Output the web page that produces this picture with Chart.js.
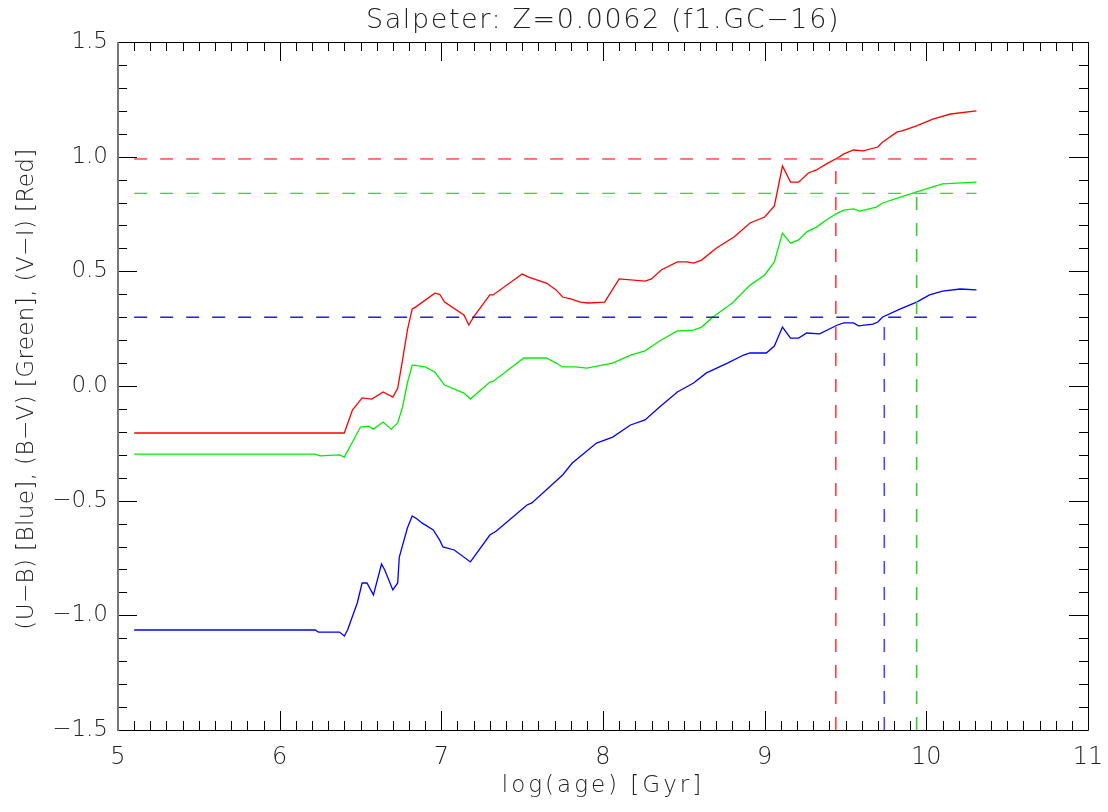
<!DOCTYPE html>
<html>
<head>
<meta charset="utf-8">
<title>Salpeter: Z=0.0062 (f1.GC-16)</title>
<script src="https://cdn.jsdelivr.net/npm/chart.js@4/dist/chart.umd.min.js"></script>
<style>
  html, body { margin: 0; padding: 0; background: #fff; }
  #wrap { width: 1108px; height: 812px; }
</style>
</head>
<body>
<div id="wrap"><canvas id="grafica" width="1108" height="812"></canvas></div>
<script>
// colour evolution tracks, log(age) on x

// (V-I)
const ageVI = [5.10, 6.40, 6.45, 6.51, 6.57, 6.64, 6.70, 6.73, 6.76, 6.79,
  6.82, 6.84, 6.96, 6.99, 7.02, 7.14, 7.17, 7.20, 7.30, 7.32,
  7.50, 7.54, 7.65, 7.71, 7.75, 7.80, 7.86, 7.91, 8.01, 8.10,
  8.26, 8.30, 8.36, 8.46, 8.52, 8.56, 8.61, 8.70, 8.81, 8.91,
  9.00, 9.06, 9.11, 9.16, 9.21, 9.27, 9.32, 9.39, 9.45, 9.49,
  9.55, 9.61, 9.70, 9.73, 9.82, 9.85, 9.94, 10.04, 10.15, 10.31];
const colVI = [-0.205, -0.205, -0.105, -0.052, -0.057, -0.026, -0.048, -0.010, 0.113, 0.244,
  0.336, 0.344, 0.405, 0.400, 0.366, 0.310, 0.266, 0.301, 0.397, 0.397,
  0.488, 0.475, 0.449, 0.419, 0.388, 0.380, 0.366, 0.362, 0.366, 0.467,
  0.457, 0.467, 0.506, 0.541, 0.541, 0.536, 0.549, 0.601, 0.650, 0.711,
  0.737, 0.785, 0.959, 0.889, 0.889, 0.929, 0.942, 0.972, 0.994, 1.012,
  1.029, 1.025, 1.042, 1.064, 1.108, 1.112, 1.134, 1.164, 1.186, 1.200];

// (B-V)
const ageBV = [5.10, 6.22, 6.25, 6.37, 6.40, 6.45, 6.50, 6.55, 6.58, 6.64,
  6.69, 6.73, 6.76, 6.79, 6.82, 6.90, 6.96, 7.02, 7.14, 7.18,
  7.30, 7.32, 7.51, 7.65, 7.71, 7.75, 7.83, 7.90, 8.06, 8.17,
  8.26, 8.35, 8.46, 8.56, 8.61, 8.68, 8.80, 8.91, 9.00, 9.06,
  9.11, 9.16, 9.21, 9.26, 9.32, 9.39, 9.45, 9.49, 9.55, 9.59,
  9.69, 9.73, 9.84, 9.94, 10.10, 10.31];
const colBV = [-0.297, -0.297, -0.305, -0.300, -0.310, -0.244, -0.179, -0.175, -0.188, -0.157,
  -0.188, -0.161, -0.092, 0.013, 0.092, 0.083, 0.061, 0.004, -0.031, -0.057,
  0.017, 0.020, 0.122, 0.122, 0.100, 0.083, 0.083, 0.078, 0.100, 0.135,
  0.153, 0.196, 0.240, 0.244, 0.257, 0.301, 0.362, 0.440, 0.484, 0.541,
  0.667, 0.623, 0.637, 0.672, 0.693, 0.728, 0.754, 0.767, 0.772, 0.763,
  0.780, 0.798, 0.824, 0.846, 0.881, 0.889];

// (U-B)
const ageUB = [5.10, 6.22, 6.24, 6.37, 6.40, 6.42, 6.48, 6.51, 6.54, 6.58,
  6.63, 6.65, 6.70, 6.73, 6.74, 6.79, 6.82, 6.85, 6.88, 6.95,
  6.99, 7.01, 7.08, 7.18, 7.30, 7.34, 7.53, 7.56, 7.73, 7.75,
  7.81, 7.96, 8.06, 8.17, 8.26, 8.35, 8.46, 8.56, 8.64, 8.77,
  8.87, 8.91, 9.01, 9.06, 9.11, 9.16, 9.21, 9.26, 9.34, 9.45,
  9.49, 9.55, 9.58, 9.67, 9.70, 9.73, 9.84, 9.94, 10.02, 10.10,
  10.21, 10.31];
const colUB = [-1.064, -1.064, -1.073, -1.073, -1.090, -1.064, -0.946, -0.859, -0.859, -0.911,
  -0.776, -0.802, -0.889, -0.859, -0.746, -0.619, -0.567, -0.580, -0.597, -0.628,
  -0.672, -0.702, -0.715, -0.767, -0.650, -0.632, -0.519, -0.510, -0.401, -0.388,
  -0.336, -0.249, -0.223, -0.170, -0.148, -0.092, -0.026, 0.013, 0.057, 0.100,
  0.135, 0.144, 0.144, 0.174, 0.257, 0.209, 0.209, 0.231, 0.227, 0.266,
  0.275, 0.275, 0.262, 0.270, 0.279, 0.301, 0.336, 0.366, 0.397, 0.414,
  0.423, 0.419];

// observed colours and the ages where the tracks reach them
const obsVI = 0.99, obsBV = 0.84, obsUB = 0.30;
const ageHitVI = 9.44, ageHitBV = 9.94, ageHitUB = 9.74;
const ageFirst = 5.10, ageLast = 10.31;

const xTicks = [5, 6, 7, 8, 9, 10, 11];
const yTicks = [-1.5, -1.0, -0.5, 0.0, 0.5, 1.0, 1.5];

const titleText = 'Salpeter: Z=0.0062 (f1.GC\u221216)';
const xTitle = 'log(age) [Gyr]';
const yTitle = '(U\u2212B) [Blue], (B\u2212V) [Green], (V\u2212I) [Red]';

const FONT = 'DejaVu Sans';
const TXT = '#222';

function pts(xs, ys) {
  return xs.map((x, i) => ({ x: x, y: ys[i] }));
}

function track(xs, ys, color) {
  return { data: pts(xs, ys), borderColor: color, borderWidth: 1.3, pointRadius: 0, tension: 0, fill: false };
}

function dashed(a, b, color, w) {
  return { data: [a, b], borderColor: color, borderWidth: w || 1.3, borderDash: [13, 13], pointRadius: 0, fill: false };
}

// inward ticks on all four sides plus the box
const frameTicks = {
  id: 'frameTicks',
  afterDatasetsDraw(chart) {
    const c = chart.ctx, a = chart.chartArea;
    const sx = chart.scales.x, sy = chart.scales.y;
    c.save();
    c.strokeStyle = '#000';
    c.lineWidth = 1;
    c.beginPath();
    for (let i = 0; i <= 60; i++) {
      const v = xTicks[0] + i * 0.1;
      const px = Math.round(sx.getPixelForValue(v)) + 0.5;
      const len = i % 10 === 0 ? 19 : 9;
      c.moveTo(px, a.bottom); c.lineTo(px, a.bottom - len);
      c.moveTo(px, a.top); c.lineTo(px, a.top + len);
    }
    for (let i = 0; i <= 30; i++) {
      const v = yTicks[0] + i * 0.1;
      const py = Math.round(sy.getPixelForValue(v)) + 0.5;
      const len = i % 5 === 0 ? 19 : 9;
      c.moveTo(a.left, py); c.lineTo(a.left + len, py);
      c.moveTo(a.right, py); c.lineTo(a.right - len, py);
    }
    c.stroke();
    c.beginPath();
    c.moveTo(a.left, a.top + 0.5); c.lineTo(a.right + 0.5, a.top + 0.5);
    c.lineTo(a.right + 0.5, a.bottom + 0.5); c.lineTo(a.left, a.bottom + 0.5);
    c.stroke();
    c.strokeStyle = '#777';
    c.lineWidth = 2;
    c.beginPath();
    c.moveTo(a.left, a.top); c.lineTo(a.left, a.bottom + 1);
    c.stroke();
    c.restore();
  }
};

// title and axis titles, spaced out like the plotting-package font
const titles = {
  id: 'titles',
  afterDraw(chart) {
    const c = chart.ctx, a = chart.chartArea;
    const mid = (a.left + a.right) / 2;
    c.save();
    c.fillStyle = TXT;
    c.textAlign = 'center';
    c.textBaseline = 'alphabetic';

    c.font = '200 27px "' + FONT + '"';
    c.letterSpacing = '1.6px';
    c.fillText(titleText, mid, 28);

    c.font = '200 23px "' + FONT + '"';
    c.letterSpacing = '3px';
    c.fillText(xTitle, mid, 792);

    c.letterSpacing = '0.4px';
    c.translate(33, (a.top + a.bottom) / 2 + 3);
    c.rotate(-Math.PI / 2);
    c.fillText(yTitle, 0, 0);
    c.restore();
  }
};

const ctx = document.getElementById('grafica').getContext('2d');
new Chart(ctx, {
  type: 'line',
  data: {
    datasets: [
      dashed({ x: ageFirst, y: obsVI }, { x: ageLast, y: obsVI }, '#ff3030'),
      dashed({ x: ageFirst, y: obsBV }, { x: ageLast, y: obsBV }, '#30e030'),
      dashed({ x: ageFirst, y: obsUB }, { x: ageLast, y: obsUB }, '#0000c8'),
      dashed({ x: ageHitVI, y: yTicks[0] }, { x: ageHitVI, y: obsVI }, '#ff4040', 1.6),
      dashed({ x: ageHitUB, y: yTicks[0] }, { x: ageHitUB, y: obsUB }, '#4848ff', 1.6),
      dashed({ x: ageHitBV, y: yTicks[0] }, { x: ageHitBV, y: obsBV }, '#30d030', 1.6),
      track(ageVI, colVI, '#ff0000'),
      track(ageBV, colBV, '#00ee00'),
      track(ageUB, colUB, '#0000ff')
    ]
  },
  options: {
    responsive: false,
    animation: false,
    layout: { padding: { left: 0, right: 20, top: 42, bottom: 0 } },
    plugins: {
      legend: { display: false },
      tooltip: { enabled: false },
      title: { display: false }
    },
    scales: {
      x: {
        type: 'linear',
        min: 5, max: 11,
        afterFit(s) { s.height = 82; s.paddingLeft = 0; s.paddingRight = 0; },
        grid: { display: false, drawTicks: false },
        border: { display: false },
        ticks: {
          stepSize: 1,
          padding: 13,
          color: TXT,
          font: { family: FONT, size: 24, weight: '200' },
          maxRotation: 0
        }
      },
      y: {
        type: 'linear',
        min: -1.5, max: 1.5,
        afterFit(s) { s.width = 118; s.paddingTop = 0; s.paddingBottom = 0; },
        grid: { display: false, drawTicks: false },
        border: { display: false },
        ticks: {
          stepSize: 0.5,
          padding: 10,
          color: TXT,
          font: { family: FONT, size: 23, weight: '200' },
          callback: v => v.toFixed(1).replace('-', '\u2212')
        }
      }
    }
  },
  plugins: [frameTicks, titles]
});
</script>
</body>
</html>
